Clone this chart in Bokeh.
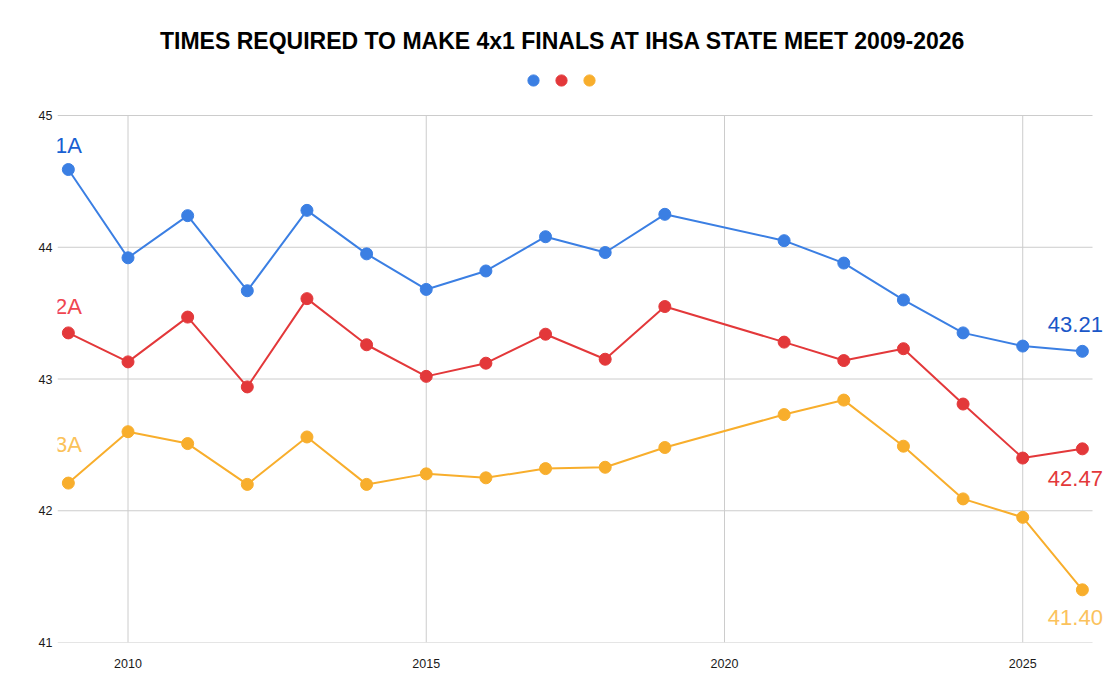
from bokeh.plotting import figure
from bokeh.models import Range1d, FixedTicker, Legend, LegendItem, Label
from bokeh.embed import file_html
from bokeh.resources import INLINE

# temps de qualification pour la finale du 4x100 (pas de meet en 2020)
years = [2009, 2010, 2011, 2012, 2013, 2014, 2015, 2016, 2017, 2018, 2019,
         2021, 2022, 2023, 2024, 2025, 2026]
class_1a = [44.59, 43.92, 44.24, 43.67, 44.28, 43.95, 43.68, 43.82, 44.08, 43.96, 44.25,
            44.05, 43.88, 43.60, 43.35, 43.25, 43.21]
class_2a = [43.35, 43.13, 43.47, 42.94, 43.61, 43.26, 43.02, 43.12, 43.34, 43.15, 43.55,
            43.28, 43.14, 43.23, 42.81, 42.40, 42.47]
class_3a = [42.21, 42.60, 42.51, 42.20, 42.56, 42.20, 42.28, 42.25, 42.32, 42.33, 42.48,
            42.73, 42.84, 42.49, 42.09, 41.95, 41.40]
names = ["1A", "2A", "3A"]
x_ticks = [2010, 2015, 2020, 2025]
y_ticks = [41, 42, 43, 44, 45]
title = "TIMES REQUIRED TO MAKE 4x1 FINALS AT IHSA STATE MEET 2009-2026"

FONT = "Liberation Sans"

# le cadre couvre toute la hauteur pour que titre, legende et etiquettes ne soient pas coupes
X0, X1, XGRID = 2008.818, 2026.505, 2026.17
Y0, Y1 = 41, 45.873

p = figure(width=1112, height=684, output_backend="svg", toolbar_location=None,
           x_range=Range1d(X0, X1), y_range=Range1d(Y0, Y1),
           min_border_left=57, min_border_right=0, min_border_bottom=42, min_border_top=0)

p.outline_line_color = None
p.background_fill_color = "white"
p.border_fill_color = "white"
p.xgrid.visible = False
p.ygrid.visible = False

# axes
p.xaxis.ticker = FixedTicker(ticks=x_ticks)
p.yaxis.ticker = FixedTicker(ticks=y_ticks)
for ax in (p.xaxis, p.yaxis):
    ax.axis_line_color = None
    ax.major_tick_line_color = None
    ax.minor_tick_line_color = None
    ax.major_tick_out = 0
    ax.major_tick_in = 0
    ax.minor_tick_out = 0
    ax.major_label_text_font = FONT
    ax.major_label_text_font_size = "12.5px"
    ax.major_label_text_color = "#1a1a1a"
p.yaxis.major_label_standoff = 5
p.xaxis.major_label_standoff = 16

# grille limitee a la zone 41-45
p.segment(x0=x_ticks, x1=x_ticks, y0=y_ticks[0], y1=y_ticks[-1], line_color="#cccccc", line_width=1)
p.segment(x0=X0, x1=XGRID, y0=y_ticks, y1=y_ticks, line_color="#cccccc", line_width=1)

line_colors = ["#3b7fe3", "#e3383a", "#f8ae2c"]
start_colors = ["#1a5fd2", "#f0464f", "#fbc259"]
end_colors = ["#1a57c8", "#e3383a", "#fbc25c"]
series = [class_1a, class_2a, class_3a]
start_off = [24, 26, 39]
end_off = [27, -30, -28]

items = []
for vals, name, lc, sc, ec, so, eo in zip(series, names, line_colors, start_colors, end_colors, start_off, end_off):
    p.line(years, vals, line_color=lc, line_width=2)
    r = p.scatter(years, vals, size=12, fill_color=lc, line_color=lc)
    items.append(LegendItem(label="", renderers=[r]))
    # etiquettes de debut et de fin de serie
    p.add_layout(Label(x=years[0], y=vals[0], text=name, y_offset=so,
                       text_align="center", text_baseline="middle",
                       text_font=FONT, text_font_size="22px", text_color=sc))
    p.add_layout(Label(x=years[-1], y=vals[-1], text=f"{vals[-1]:.2f}", x_offset=-7, y_offset=eo,
                       text_align="center", text_baseline="middle",
                       text_font=FONT, text_font_size="22px", text_color=ec))

p.add_layout(Label(x=2017.293, y=45.569, text=title, text_align="center", text_baseline="middle",
                   text_font=FONT, text_font_size="23px", text_font_style="bold", text_color="#000000"))

legend = Legend(items=items, orientation="horizontal", location=(462, 547),
                glyph_width=28, glyph_height=30, spacing=0, padding=0, margin=0,
                label_width=0, label_standoff=0,
                border_line_color=None, background_fill_alpha=0)
p.add_layout(legend, "center")

open("out.html", "w").write(file_html(p, INLINE))
